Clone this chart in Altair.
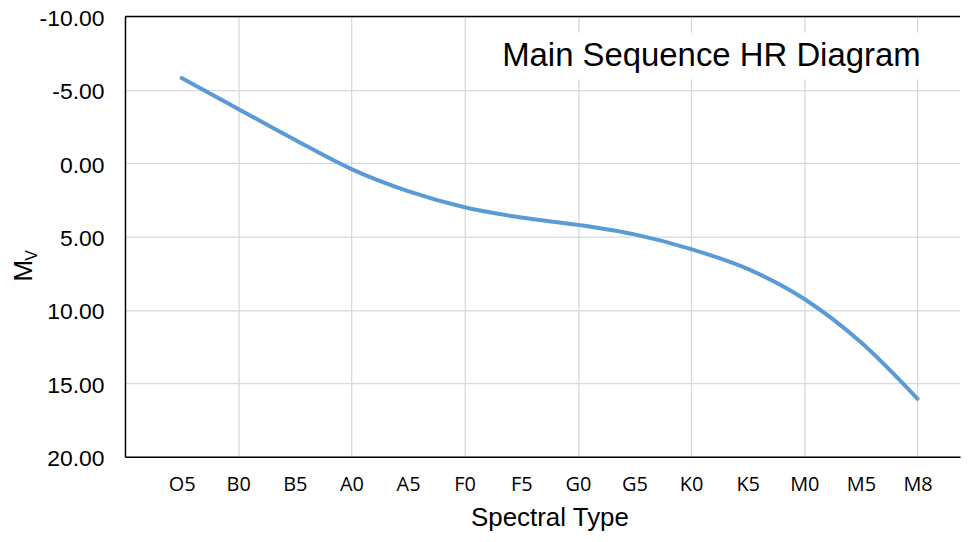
import json
import altair as alt
import pandas as pd

# ---- data ----
spectral_types = ["O5", "B0", "B5", "A0", "A5", "F0", "F5", "G0", "G5", "K0", "K5", "M0", "M5", "M8"]
type_index = [5, 10, 15, 20, 25, 30, 35, 40, 45, 50, 55, 60, 65, 70]
abs_mag = [-5.8, -3.7, -1.6, 0.4, 1.9, 3.0, 3.7, 4.2, 4.85, 5.85, 7.2, 9.25, 12.2, 16.05]
y_ticks = [-10, -5, 0, 5, 10, 15, 20]

chart_title = "Main Sequence HR Diagram"
x_title = "Spectral Type"
y_title_main = "M"
y_title_sub = "V"

W, H = 838, 442

df = pd.DataFrame({"type": spectral_types, "x": type_index, "mv": abs_mag})

label_expr = json.dumps(spectral_types) + "[round(datum.value / 5) - 1]"

x_enc = alt.X(
    "x:Q",
    scale=alt.Scale(domain=[0, 73.75], nice=False, zero=False),
    axis=alt.Axis(
        values=type_index,
        labelExpr=label_expr,
        grid=True,
        gridColor="#d9d9d9",
        gridWidth=1.3,
        gridOpacity={"condition": {"test": "datum.value % 10 === 0", "value": 1}, "value": 0},
        domainColor="#000000",
        domainWidth=1.5,
        ticks=False,
        tickSize=0,
        labelPadding=28,
        labelBaseline="middle",
        labelFont="Open Sans",
        labelFontSize=20,
        labelColor="#000000",
        title=None,
    ),
)

y_enc = alt.Y(
    "mv:Q",
    scale=alt.Scale(domain=[-10, 20], reverse=True, nice=False, zero=False),
    axis=alt.Axis(
        values=y_ticks,
        labelExpr="(datum.value < 0 ? '-' : '') + format(abs(datum.value), '.2f')",
        grid=True,
        gridColor="#d9d9d9",
        gridWidth=1.3,
        domainColor="#000000",
        domainWidth=1.5,
        ticks=False,
        tickSize=0,
        labelPadding=21,
        labelOffset=2,
        labelFont="Liberation Sans",
        labelFontSize=23,
        labelColor="#000000",
        title=None,
    ),
)

line = alt.Chart(df).mark_line(
    color="#5B9BD5", strokeWidth=4, strokeCap="round", interpolate="monotone"
).encode(x=x_enc, y=y_enc)

one = pd.DataFrame({"k": [0]})

top_rule = alt.Chart(one).mark_rule(color="#000000", strokeWidth=1.5).encode(
    x=alt.value(0), x2=alt.value(W), y=alt.value(0)
)

title_box = alt.Chart(one).mark_rect(color="#ffffff").encode(
    x=alt.value(365), x2=alt.value(822), y=alt.value(16.5), y2=alt.value(63)
)

title_txt = alt.Chart(pd.DataFrame({"t": [chart_title]})).mark_text(
    font="Liberation Sans", fontSize=33, color="#000000", align="center", baseline="alphabetic"
).encode(text="t:N", x=alt.value(588.5), y=alt.value(50.2))

x_title_txt = alt.Chart(pd.DataFrame({"t": [x_title]})).mark_text(
    font="Liberation Sans", fontSize=26, color="#000000", align="center", baseline="alphabetic"
).encode(text="t:N", x=alt.value(426.5), y=alt.value(511.2))

y_title_m = alt.Chart(pd.DataFrame({"t": [y_title_main]})).mark_text(
    font="Liberation Sans", fontSize=26, color="#000000", align="center", baseline="alphabetic", angle=270
).encode(text="t:N", x=alt.value(-93.7), y=alt.value(255.3))

y_title_v = alt.Chart(pd.DataFrame({"t": [y_title_sub]})).mark_text(
    font="Liberation Sans", fontSize=16, color="#000000", align="center", baseline="alphabetic", angle=270
).encode(text="t:N", x=alt.value(-88.7), y=alt.value(239.8))

chart = alt.layer(
    title_box, title_txt, top_rule, line, x_title_txt, y_title_m, y_title_v
).properties(
    width=W,
    height=H,
    padding={"left": 117.4, "top": 7.5, "right": 1, "bottom": 78},
    autosize=alt.AutoSizeParams(type="none"),
    background="#ffffff",
).configure_view(stroke=None)

chart.save("out.html", embed_options={"renderer": "svg", "actions": False})
